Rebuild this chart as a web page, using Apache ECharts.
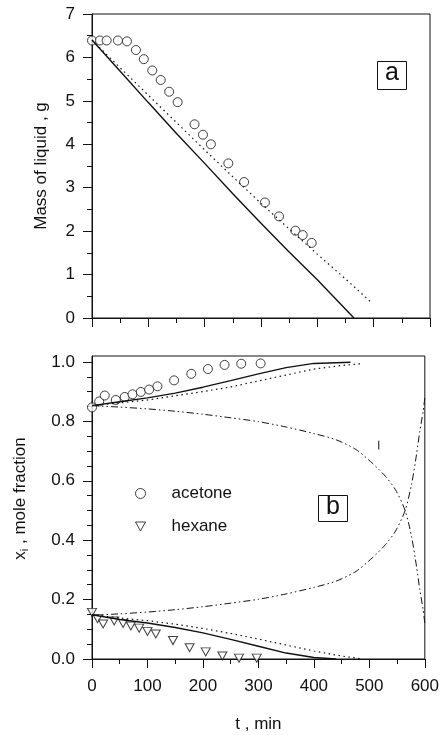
<!DOCTYPE html>
<html>
<head>
<meta charset="utf-8">
<script src="https://cdn.jsdelivr.net/npm/echarts@6/dist/echarts.min.js"></script>
<style>
  html, body { margin: 0; padding: 0; background: #fff; }
  #main { width: 442px; height: 735px; }
</style>
</head>
<body>
<div id="main"></div>
<script>
// panel a: mass of liquid
var massT = [0, 14, 26, 46, 62, 78, 92, 107, 122, 137, 152, 182, 197, 211, 242, 270, 307, 332, 361, 374, 390];
var massExp = [6.39, 6.39, 6.39, 6.39, 6.37, 6.17, 5.96, 5.70, 5.48, 5.21, 4.97, 4.46, 4.22, 4.00, 3.56, 3.13, 2.66, 2.34, 2.01, 1.91, 1.73];
var massSolidT = [0, 50, 100, 150, 200, 250, 300, 350, 400, 465];
var massSolid = [6.4, 5.68, 4.96, 4.25, 3.56, 2.86, 2.18, 1.52, 0.88, 0];
var massDotT = [0, 50, 100, 150, 200, 250, 300, 350, 400, 450, 494];
var massDotted = [6.4, 5.76, 5.13, 4.5, 3.87, 3.25, 2.64, 2.05, 1.47, 0.9, 0.38];

// panel b: mole fractions
var acT = [0, 13, 23, 43, 59, 73, 88, 103, 118, 148, 179, 209, 239, 269, 304];
var acExp = [0.847, 0.867, 0.887, 0.872, 0.882, 0.891, 0.899, 0.907, 0.918, 0.938, 0.960, 0.976, 0.990, 0.994, 0.995];
var hxT = [0, 10, 20, 40, 56, 70, 85, 100, 115, 146, 176, 205, 235, 265, 297];
var hxExp = [0.157, 0.136, 0.118, 0.128, 0.120, 0.111, 0.104, 0.093, 0.084, 0.062, 0.038, 0.024, 0.010, 0.003, 0.003];

var acSolidT = [0, 50, 100, 150, 200, 250, 300, 350, 400, 466];
var acSolid = [0.853, 0.866, 0.879, 0.895, 0.915, 0.937, 0.960, 0.981, 0.995, 0.999];
var acDotT = [0, 50, 100, 150, 200, 250, 300, 350, 400, 450, 485];
var acDotted = [0.853, 0.862, 0.872, 0.886, 0.900, 0.916, 0.936, 0.956, 0.976, 0.988, 0.994];
var hxSolidT = [0, 50, 100, 150, 200, 250, 300, 350, 400, 440];
var hxSolid = [0.149, 0.133, 0.121, 0.106, 0.088, 0.066, 0.043, 0.020, 0.005, 0];
var hxDotT = [0, 50, 100, 150, 200, 250, 300, 350, 400, 450, 488];
var hxDotted = [0.149, 0.138, 0.129, 0.117, 0.103, 0.086, 0.067, 0.047, 0.027, 0.010, 0];

var vapT = [0, 50, 100, 150, 200, 250, 300, 350, 400, 440, 476, 505, 529, 547, 564.5, 576, 585, 591, 597, 600];
var vapUpper = [0.853, 0.848, 0.842, 0.834, 0.824, 0.812, 0.799, 0.781, 0.759, 0.738, 0.705, 0.660, 0.615, 0.570, 0.500, 0.413, 0.312, 0.233, 0.166, 0.12];
var vapLower = [0.147, 0.152, 0.158, 0.166, 0.176, 0.188, 0.201, 0.219, 0.241, 0.262, 0.295, 0.340, 0.385, 0.430, 0.500, 0.587, 0.688, 0.767, 0.834, 0.88];
var markT = [517, 517];
var markV = [0.705, 0.735];

var tMinor = [50, 150, 250, 350, 450, 550];
var massMinor = [0.5, 1.5, 2.5, 3.5, 4.5, 5.5, 6.5];
var xLabels = [0, 0.2, 0.4, 0.6, 0.8, 1.0];
var xMinor = [0.05, 0.1, 0.15, 0.25, 0.3, 0.35, 0.45, 0.5, 0.55, 0.65, 0.7, 0.75, 0.85, 0.9, 0.95];

function pairs(a, b) {
  return a.map(function (v, i) { return [v, b[i]]; });
}

var FONT = 'Liberation Sans, Arial, sans-serif';
var INK = '#111';
var dashDot = [7, 3, 1.5, 3, 1.5, 3];
var hollow = { color: '#fff', borderColor: INK, borderWidth: 1 };

function mainX(grid, labels) {
  return {
    type: 'value', gridIndex: grid, min: 0, max: 600, interval: 100,
    axisLine: { lineStyle: { color: INK, width: 1 } },
    axisTick: { length: 9, lineStyle: { color: INK } },
    axisLabel: { show: labels, color: INK, fontSize: 17, fontFamily: FONT, margin: 19 },
    splitLine: { show: false }
  };
}
function minorX(grid) {
  return {
    type: 'value', gridIndex: grid, min: 0, max: 600,
    axisLine: { show: false },
    axisTick: { inside: true, length: 5, customValues: tMinor, lineStyle: { color: INK } },
    axisLabel: { show: false },
    splitLine: { show: false }
  };
}
function curve(name, t, v, style, smooth) {
  return {
    name: name, type: 'line', xAxisIndex: 2, yAxisIndex: 2, showSymbol: false,
    smooth: smooth || false, lineStyle: style, data: pairs(t, v)
  };
}

var option = {
  backgroundColor: '#fff',
  animation: false,
  textStyle: { fontFamily: FONT },
  grid: [
    { left: 92, right: 12, top: 14, height: 304, show: true, borderColor: INK, borderWidth: 1, backgroundColor: 'transparent' },
    { left: 92, right: 12, top: 356, height: 303, show: true, borderColor: INK, borderWidth: 1, backgroundColor: 'transparent' }
  ],
  title: [
    { text: 'a', left: 377, top: 61, padding: [0, 8, 4, 8], borderColor: INK, borderWidth: 1,
      textStyle: { fontSize: 25, fontWeight: 'normal', color: INK, fontFamily: FONT } },
    { text: 'b', left: 318, top: 495, padding: [0, 8, 2, 8], borderColor: INK, borderWidth: 1,
      textStyle: { fontSize: 25, fontWeight: 'normal', color: INK, fontFamily: FONT } }
  ],
  legend: {
    data: ['acetone', 'hexane'],
    orient: 'vertical', left: 130, top: 480,
    itemWidth: 10, itemHeight: 10, itemGap: 16,
    itemStyle: hollow,
    textStyle: { fontSize: 17, color: INK, fontFamily: FONT, padding: [0, 0, 0, 21] }
  },
  xAxis: [
    mainX(0, false), minorX(0),
    Object.assign(mainX(1, true), {
      name: 't , min', nameLocation: 'middle', nameGap: 57,
      nameTextStyle: { fontSize: 17, color: INK, fontFamily: FONT }
    }),
    minorX(1)
  ],
  yAxis: [
    {
      type: 'value', gridIndex: 0, min: 0, max: 7, interval: 1,
      name: 'Mass of liquid , g', nameLocation: 'middle', nameGap: 42,
      nameTextStyle: { fontSize: 17, color: INK, fontFamily: FONT },
      axisLine: { lineStyle: { color: INK } },
      axisTick: { length: 9, lineStyle: { color: INK } },
      axisLabel: { color: INK, fontSize: 17, fontFamily: FONT, margin: 17 },
      splitLine: { show: false }
    },
    {
      type: 'value', gridIndex: 0, min: 0, max: 7,
      axisLine: { show: false },
      axisTick: { inside: true, length: 5, customValues: massMinor, lineStyle: { color: INK } },
      axisLabel: { show: false }, splitLine: { show: false }
    },
    {
      type: 'value', gridIndex: 1, min: 0, max: 1.02,
      name: '{n|x}{s|i}{n| , mole fraction}', nameLocation: 'middle', nameGap: 62,
      nameTextStyle: {
        color: INK, fontFamily: FONT, padding: [0, 0, 0, 18],
        rich: {
          n: { fontSize: 17, color: INK, fontFamily: FONT },
          s: { fontSize: 11, color: INK, fontFamily: FONT, verticalAlign: 'bottom', padding: [8, 0, 0, 0] }
        }
      },
      axisLine: { lineStyle: { color: INK } },
      axisTick: { length: 9, customValues: xLabels, lineStyle: { color: INK } },
      axisLabel: { color: INK, fontSize: 17, fontFamily: FONT, margin: 17, customValues: xLabels,
        formatter: function (v) { return v.toFixed(1); } },
      splitLine: { show: false }
    },
    {
      type: 'value', gridIndex: 1, min: 0, max: 1.02,
      axisLine: { show: false },
      axisTick: { inside: true, length: 5, customValues: xMinor, lineStyle: { color: INK } },
      axisLabel: { show: false }, splitLine: { show: false }
    }
  ],
  series: [
    { name: 'mass solid', type: 'line', xAxisIndex: 0, yAxisIndex: 0, showSymbol: false,
      lineStyle: { color: INK, width: 1.4 }, data: pairs(massSolidT, massSolid) },
    { name: 'mass dotted', type: 'line', xAxisIndex: 0, yAxisIndex: 0, showSymbol: false,
      lineStyle: { color: INK, width: 1.2, type: [1.5, 3.5] }, data: pairs(massDotT, massDotted) },
    { name: 'mass', type: 'scatter', xAxisIndex: 0, yAxisIndex: 0, symbol: 'circle', symbolSize: 9,
      itemStyle: hollow, data: pairs(massT, massExp) },

    curve('vap upper', vapT, vapUpper, { color: INK, width: 1, type: dashDot }, 0.25),
    curve('vap lower', vapT, vapLower, { color: INK, width: 1, type: dashDot }, 0.25),
    curve('mark', markT, markV, { color: INK, width: 1 }),
    curve('ac solid', acSolidT, acSolid, { color: INK, width: 1.4 }),
    curve('ac dotted', acDotT, acDotted, { color: INK, width: 1.2, type: [1.5, 3.5] }),
    curve('hx solid', hxSolidT, hxSolid, { color: INK, width: 1.4 }),
    curve('hx dotted', hxDotT, hxDotted, { color: INK, width: 1.2, type: [1.5, 3.5] }),
    { name: 'acetone', type: 'scatter', xAxisIndex: 2, yAxisIndex: 2, symbol: 'circle', symbolSize: 9,
      itemStyle: hollow, data: pairs(acT, acExp) },
    { name: 'hexane', type: 'scatter', xAxisIndex: 2, yAxisIndex: 2, symbol: 'path://M0,0 L10,0 L5,9 Z', symbolSize: [9, 8],
      itemStyle: hollow, data: pairs(hxT, hxExp) }
  ]
};

var chart = echarts.init(document.getElementById('main'));
chart.setOption(option);
</script>
</body>
</html>
